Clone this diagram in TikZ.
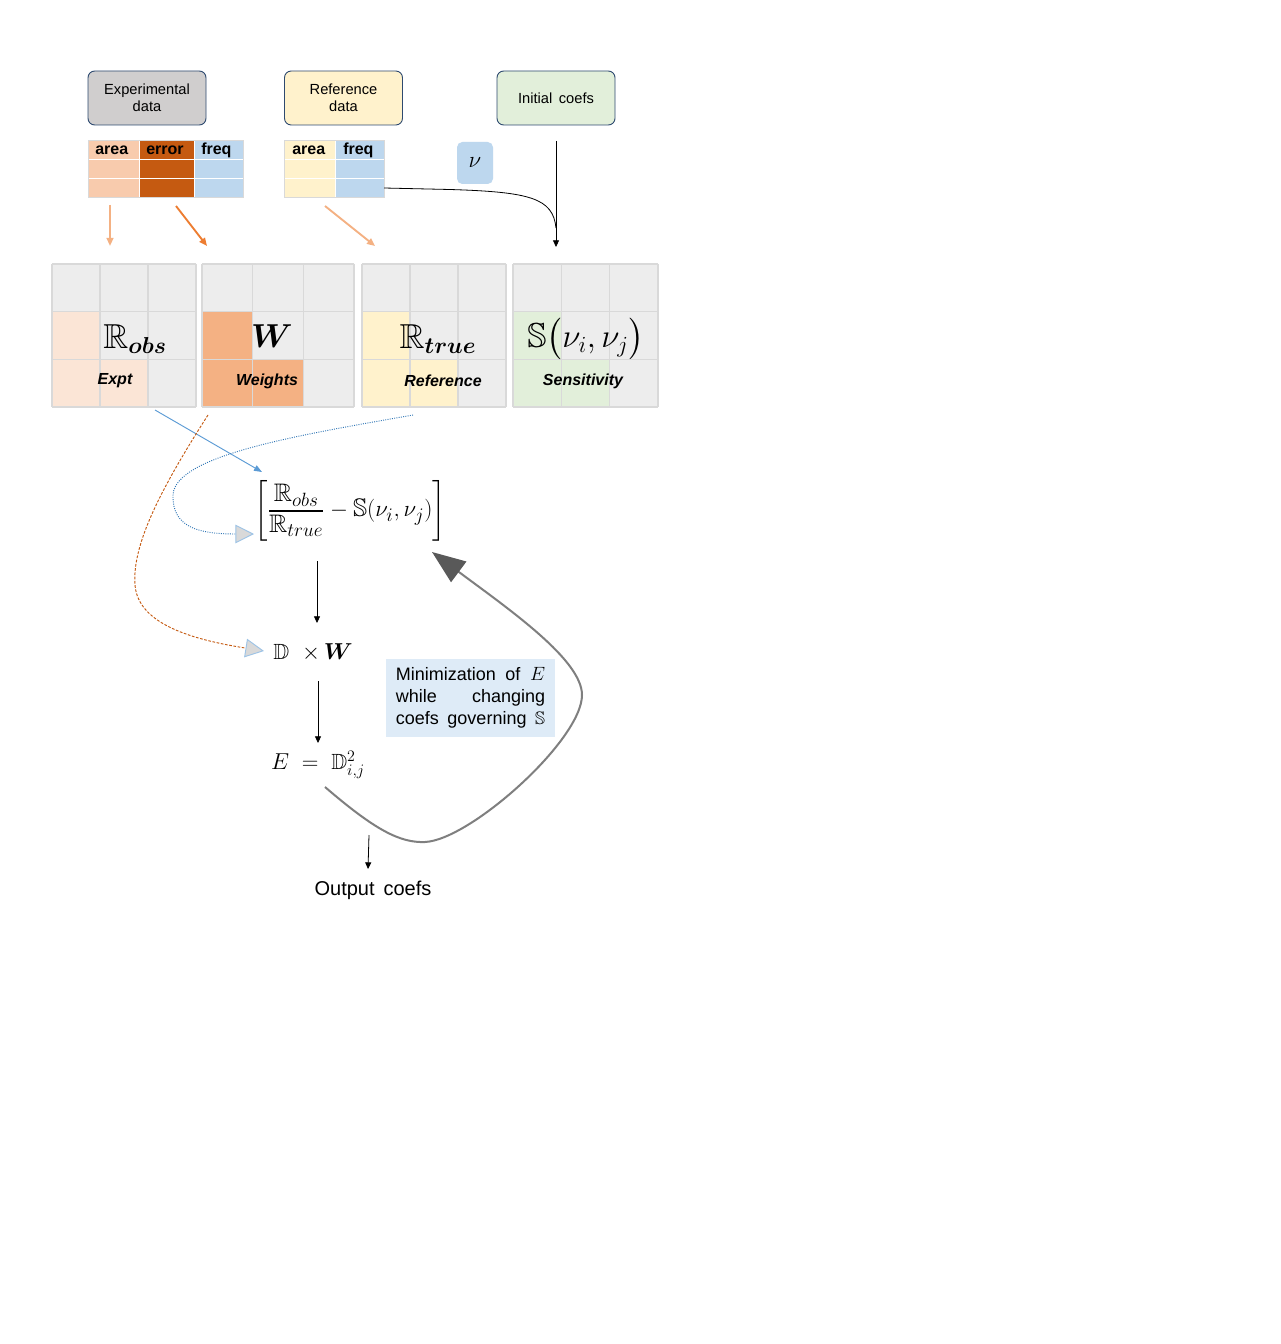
\documentclass[tikz,border=0pt]{standalone}
\usepackage{fontspec}
\setmainfont{Liberation Sans}
\usepackage{amsmath,amssymb,bm}
\usetikzlibrary{arrows.meta}
\definecolor{boxblue}{HTML}{2E4A70}
\definecolor{expgray}{HTML}{D0CECE}
\definecolor{refyel}{HTML}{FFF2CC}
\definecolor{initgrn}{HTML}{E2EFDA}
\definecolor{nublue}{HTML}{BDD7EE}
\definecolor{cArea}{HTML}{F8CBAD}
\definecolor{cErr}{HTML}{C55A11}
\definecolor{cFreq}{HTML}{BDD7EE}
\definecolor{mOne}{HTML}{FBE5D6}
\definecolor{mTwo}{HTML}{F4B183}
\definecolor{mThree}{HTML}{FFF2CC}
\definecolor{mFour}{HTML}{E2EFDA}
\definecolor{mgray}{HTML}{EDEDED}
\definecolor{gridc}{HTML}{D9D9D9}
\definecolor{lblue}{HTML}{5B9BD5}
\definecolor{dblue}{HTML}{2E75B6}
\definecolor{darrow}{HTML}{ED7D31}
\definecolor{trifill}{HTML}{D9D9D9}
\definecolor{tribord}{HTML}{9DC3E6}
\definecolor{loopg}{HTML}{7F7F7F}
\definecolor{headg}{HTML}{595959}
\definecolor{minblue}{HTML}{DEEBF7}
\begin{document}
\begin{tikzpicture}[x=0.75pt,y=-0.75pt,
  databox/.style={draw=boxblue, line width=0.7pt, rounded corners=5pt, minimum width=88.5pt, minimum height=40.5pt, inner sep=0pt, align=center, font=\fontsize{11}{12.75}\selectfont},
  hdr/.style={anchor=west, inner sep=0pt, font=\fontsize{12}{14}\selectfont\bfseries},
  lbl/.style={inner sep=0pt, font=\fontsize{12}{14}\selectfont\bfseries\itshape},
  bigm/.style={inner sep=0pt, font=\fontsize{26}{30}\selectfont},
  fml/.style={inner sep=0pt, font=\fontsize{16.5}{20}\selectfont},
  blk/.style={-{Triangle[length=5pt,width=4.5pt]}, line width=0.6pt},
  carrow/.style={-{Triangle[length=6pt,width=5pt]}, line width=1.4pt},
  tgrid/.style={draw=white, line width=0.6pt},
  tborder/.style={draw=gridc, line width=0.6pt},
  mgrid/.style={draw=gridc, line width=0.8pt},
  tritip/.style={-{Triangle[length=14pt,width=14pt,fill=trifill,color=tribord,line width=0.7pt]}}
]
\fill[white] (0,0) rectangle (1280,1344);
\useasboundingbox (0,0) rectangle (1280,1344);

% top boxes
\node[databox, fill=expgray] (exp) at (147,98) {Experimental\\data};
\node[databox, fill=refyel] (ref) at (343.5,98) {Reference\\data};
\node[databox, fill=initgrn] (init) at (556,98) {Initial\hspace{0.45em}coefs};

% experimental table
\fill[cArea] (88,140) rectangle (139,197);
\fill[cErr] (139,140) rectangle (194,197);
\fill[cFreq] (194,140) rectangle (243,197);
\draw[tgrid] (88,159) -- (243,159) (88,178) -- (243,178) (139,140) -- (139,197) (194,140) -- (194,197);
\draw[tborder] (88,140) rectangle (243,197);
\node[hdr] (h1) at (95,150.5) {area};
\node[hdr] (h2) at (146,150.5) {error};
\node[hdr] (h3) at (201,150.5) {freq};

% reference table
\fill[refyel] (284,140) rectangle (335,197);
\fill[cFreq] (335,140) rectangle (384,197);
\draw[tgrid] (284,159) -- (384,159) (284,178) -- (384,178) (335,140) -- (335,197);
\draw[tborder] (284,140) rectangle (384,197);
\node[hdr] (h4) at (292,150.5) {area};
\node[hdr] (h5) at (343,150.5) {freq};

% nu box
\node[fill=nublue, rounded corners=4pt, minimum width=27pt, minimum height=31.5pt, inner sep=0pt, font=\fontsize{17}{17}\selectfont] (nu) at (475,163) {$\nu$};

% connectors in top part
\coordinate (rtab) at (384,188);
\coordinate (icS) at (556,141);
\coordinate (icE) at (556,247);
\coordinate (icM) at (556,228);
\draw[line width=0.6pt] (rtab) -- (450,189.5) .. controls (530,192) and (553,198) .. (icM);
\draw[blk] (icS) -- (icE);

\coordinate (o1s) at (110,205); \coordinate (o1e) at (110,246);
\coordinate (o2s) at (176,206); \coordinate (o2e) at (207,246);
\coordinate (o3s) at (325,206); \coordinate (o3e) at (375,246);
\draw[carrow, draw=mTwo] (o1s) -- (o1e);
\draw[carrow, draw=darrow] (o2s) -- (o2e);
\draw[carrow, draw=mTwo] (o3s) -- (o3e);

% matrices
\foreach \xa/\w/\col in {52/48/mOne, 202/50.67/mTwo, 362/48/mThree, 513/48.33/mFour} {
  \fill[mgray] (\xa,264) rectangle ++(3*\w,143);
  \fill[\col] (\xa,311.67) rectangle ++(\w,95.33);
  \fill[\col] (\xa+\w,359.33) rectangle ++(\w,47.67);
  \foreach \i in {0,1,2,3} {
    \draw[mgrid] (\xa+\i*\w,264) -- ++(0,143);
    \draw[mgrid] (\xa,264+\i*47.67) -- ++(3*\w,0);
  }
}
\node[bigm] (Robs) at (135,339) {$\mathbb{R}_{\bm{obs}}$};
\node[bigm] (Wm) at (272,336) {$\bm{W}$};
\node[bigm] (Rtrue) at (438,339) {$\mathbb{R}_{\bm{true}}$};
\node[bigm] (Sm) at (586,339) {$\mathbb{S}\bigl(\nu_i,\nu_j\bigr)$};
\node[lbl] (l1) at (115,381) {Expt};
\node[lbl] (l2) at (267,381) {Weights};
\node[lbl] (l3) at (443,381) {Reference};
\node[lbl] (l4) at (583,381) {Sensitivity};

% formulas
\node[inner sep=0pt, font=\fontsize{19}{22}\selectfont] (f1) at (350,511) {$\left[\dfrac{\mathbb{R}_{obs}}{\mathbb{R}_{true}} - \mathbb{S}(\nu_i,\nu_j)\right]$};
\node[fml] (f2) at (313,653) {$\mathbb{D}\;\;{\times}\,\bm{W}$};
\node[fml] (f3) at (318,765) {$E\;=\;\mathbb{D}^2_{i,j}$};
\node[fill=minblue, text width=112pt, inner xsep=7.5pt, inner ysep=0pt, minimum height=58.5pt, font=\fontsize{13.5}{16.5}\selectfont] (minbox) at (470.5,698)
  {Minimization\hfill of\hfill $E$\\ while\hfill changing\\ coefs\hfill governing\hfill $\mathbb{S}$};
\node[inner sep=0pt, font=\fontsize{15}{17}\selectfont] (out) at (373,890) {Output\hspace{0.45em}coefs};

% lower connectors
\coordinate (b1s) at (155,410); \coordinate (b1e) at (262,472);
\draw[-{Triangle[length=6pt,width=4.5pt]}, draw=lblue, line width=0.7pt] (b1s) -- (b1e);

\coordinate (ds) at (208,415); \coordinate (de) at (264,651);
\draw[tritip, draw=cErr, line width=0.7pt, dash pattern=on 2pt off 1.2pt] (ds) .. controls (160,490) and (132,545) .. (135,585) .. controls (138,625) and (195,640) .. (de);

\coordinate (ps) at (413,415); \coordinate (pe) at (254,534);
\draw[tritip, draw=dblue, line width=0.7pt, densely dotted] (ps) .. controls (300,435) and (175,455) .. (173,495) .. controls (172,528) and (200,534) .. (pe);

\coordinate (k1s) at (317,561); \coordinate (k1e) at (317,623);
\coordinate (k2s) at (318,681); \coordinate (k2e) at (318,743);
\coordinate (k3s) at (369,835); \coordinate (k3e) at (368,869);
\draw[blk] (k1s) -- (k1e);
\draw[blk] (k2s) -- (k2e);
\draw[blk] (k3s) -- (k3e);

\coordinate (gs) at (325,787); \coordinate (ge) at (432,552);
\draw[draw=loopg, line width=1.5pt, -{Triangle[length=25pt,width=19pt,color=headg]}] (gs) .. controls (375,830) and (400,843) .. (425,842) .. controls (470,840) and (582,740) .. (582,695) .. controls (582,660) and (510,610) .. (ge);
\end{tikzpicture}
\end{document}
